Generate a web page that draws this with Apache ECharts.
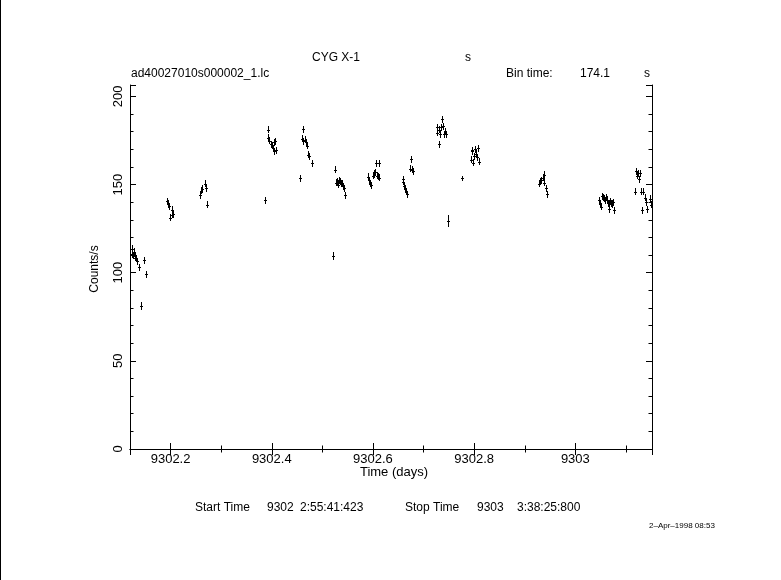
<!DOCTYPE html>
<html>
<head>
<meta charset="utf-8">
<script src="https://cdn.jsdelivr.net/npm/echarts@6/dist/echarts.min.js"></script>
<style>
html,body{margin:0;padding:0;background:#fff;}
#chart{width:781px;height:580px;}
</style>
</head>
<body>
<div id="chart"></div>
<script>
// ---- Data ----
const times = [
  9302.1230, 9302.1245, 9302.1262, 9302.1277, 9302.1292, 9302.1306, 9302.1321, 9302.1336, 9302.1366, 9302.1425, 9302.1484, 9302.1513,
  9302.1923, 9302.1943, 9302.1976, 9302.1996, 9302.2022, 9302.2030, 9302.2055,
  9302.2587, 9302.2607, 9302.2627, 9302.2686, 9302.2700, 9302.2715,
  9302.3874, 9302.3920, 9302.3935, 9302.3955, 9302.3985, 9302.4010, 9302.4030, 9302.4035, 9302.4050, 9302.4065, 9302.4090,
  9302.4558, 9302.4592, 9302.4612, 9302.4626, 9302.4650, 9302.4680, 9302.4696, 9302.4720, 9302.4735, 9302.4804,
  9302.5218, 9302.5247, 9302.5277, 9302.5297, 9302.5316, 9302.5336, 9302.5356, 9302.5375, 9302.5391, 9302.5410, 9302.5425, 9302.5444,
  9302.5898, 9302.5915, 9302.5935, 9302.5963, 9302.5996, 9302.6016, 9302.6036, 9302.6065, 9302.6075, 9302.6095, 9302.6114, 9302.6124,
  9302.6587, 9302.6600, 9302.6613, 9302.6636, 9302.6656, 9302.6676, 9302.6739, 9302.6755, 9302.6770, 9302.6784,
  9302.7257, 9302.7272, 9302.7297, 9302.7312, 9302.7330, 9302.7345, 9302.7362, 9302.7378, 9302.7395, 9302.7415, 9302.7434, 9302.7480, 9302.7763,
  9302.7937, 9302.7952, 9302.7967, 9302.7986, 9302.8001, 9302.8016, 9302.8045, 9302.8060, 9302.8080, 9302.8095,
  9302.9287, 9302.9306, 9302.9326, 9302.9356, 9302.9375, 9302.9385, 9302.9415, 9302.9444,
  9303.0470, 9303.0486, 9303.0500, 9303.0534, 9303.0550, 9303.0567, 9303.0584, 9303.0600, 9303.0616, 9303.0632, 9303.0650, 9303.0666, 9303.0670, 9303.0690, 9303.0712, 9303.0730, 9303.0745, 9303.0760,
  9303.1173, 9303.1207, 9303.1222, 9303.1239, 9303.1252, 9303.1278, 9303.1305, 9303.1325, 9303.1344, 9303.1370, 9303.1390, 9303.1410, 9303.1476, 9303.1503
];
const rates = [
  113.5, 110.5, 110, 112, 109.5, 108.5, 108, 106.5, 103, 81, 107, 99,
  140.5, 139, 137.7, 131.2, 135.6, 132.8, 133.3,
  144, 146.5, 147.5, 150.5, 148, 138.5,
  141, 176.5, 181, 175, 173, 172, 170.5, 174, 169, 174.5, 169.5,
  153.5, 176, 181.5, 174.5, 175.5, 174, 172, 167, 166, 162,
  109.5, 158.5, 151, 152, 150, 152.5, 151.5, 150.5, 150.5, 149, 148, 144,
  154.5, 152.5, 150.5, 149.5, 155, 156, 157, 162, 155, 154.5, 162, 154,
  153, 151.5, 149, 147.5, 146, 144.5, 159, 164.5, 158.5, 157.5,
  182.5, 179.5, 181, 173, 178.5, 182.5, 187, 183, 178.5, 180, 178.5, 129.5, 153.5,
  164, 169, 169.5, 162.5, 166, 170, 167.5, 165.5, 170.5, 163,
  150.5, 151.5, 152.5, 154, 155.5, 151, 148, 144.5,
  141, 139, 137.5, 143.5, 142.5, 142, 141, 142.5, 141, 141.5, 139.5, 139, 136, 140.5, 139.5, 139, 140, 135.5,
  146, 157.5, 155, 156.5, 153, 156.5, 146, 135.5, 146, 142.5, 140, 136, 142, 138.5
];
const rateErrors = [
  2, 2, 2, 2, 2, 2, 2, 2, 2, 2.2, 2, 2,
  2, 2, 2, 2, 2, 2, 2,
  2, 2, 2, 2, 2, 2,
  2.2, 2, 2, 2, 2, 2, 2, 2, 2, 2, 2,
  2, 2, 2, 2, 2, 2, 2, 2, 2, 2,
  2, 2, 2, 2, 2, 2, 2, 2, 2, 2, 2, 2,
  2, 2, 2, 2, 2, 2, 2, 2, 2, 2, 2, 2,
  2, 2, 2, 2, 2, 2, 2, 2, 2, 2,
  2, 2, 2, 2, 2, 2, 2, 2, 2, 2, 2, 3.5, 1.5,
  2, 2, 2, 2, 2, 2, 2, 2, 2, 2,
  2, 2, 2, 2, 2, 2, 2, 2,
  2, 2, 2, 2, 2, 2, 2, 2, 2, 2, 2, 2, 2, 2, 2, 2, 2, 2,
  2, 2, 2, 2, 2, 2, 2, 2, 2, 2, 2, 2, 2, 2
];
const binTimeSec = 174.1;
const xRange = [9302.1198, 9303.1515];
const yRange = [0, 206.5];
const xLabelFormat = v => String(parseFloat(v.toFixed(4)));
const yLabelFormat = v => String(parseFloat(v.toFixed(2)));

// ---- Chart ----
const FONT = '"Liberation Sans", "DejaVu Sans", sans-serif';
const chart = echarts.init(document.getElementById('chart'), null, {renderer: 'canvas'});
const seriesData = times.map((t, i) => [t, rates[i], rateErrors[i]]);
const halfBinDays = binTimeSec / 86400 / 2;

const tickCommon = {
  axisLine: {show: true, lineStyle: {color: '#000', width: 1}},
  axisTick: {show: true, inside: true, length: 6, lineStyle: {color: '#000', width: 1}},
  splitLine: {show: false}
};

const option = {
  backgroundColor: '#fff',
  animation: false,
  grid: {left: 130, top: 85, width: 522, height: 364, containLabel: false},
  xAxis: [
    Object.assign({
      type: 'value', position: 'bottom', min: xRange[0], max: xRange[1], splitNumber: 5,
      minorTick: {show: true, splitNumber: 2, length: 3.5, lineStyle: {color: '#000', width: 1}},
      axisLabel: {color: '#000', fontFamily: FONT, fontSize: 13, margin: 4, formatter: xLabelFormat, showMinLabel: false, showMaxLabel: false}
    }, tickCommon),
    Object.assign({
      type: 'value', position: 'top', min: xRange[0], max: xRange[1], splitNumber: 5,
      minorTick: {show: true, splitNumber: 2, length: 3.5, lineStyle: {color: '#000', width: 1}},
      axisLabel: {show: false}
    }, tickCommon)
  ],
  yAxis: [
    Object.assign({
      type: 'value', position: 'left', min: yRange[0], max: yRange[1], splitNumber: 4,
      minorTick: {show: true, splitNumber: 5, length: 3.5, lineStyle: {color: '#000', width: 1}},
      axisLabel: {color: '#000', fontFamily: FONT, fontSize: 13, rotate: 90, margin: 5, formatter: yLabelFormat, showMaxLabel: false}
    }, tickCommon),
    Object.assign({
      type: 'value', position: 'right', min: yRange[0], max: yRange[1], splitNumber: 4,
      minorTick: {show: true, splitNumber: 5, length: 3.5, lineStyle: {color: '#000', width: 1}},
      axisLabel: {show: false}
    }, tickCommon)
  ],
  series: [{
    type: 'custom',
    xAxisIndex: 0, yAxisIndex: 0,
    data: seriesData,
    renderItem: function (params, api) {
      const x = api.value(0), y = api.value(1), e = api.value(2);
      const top = api.coord([x, y + e]);
      const bot = api.coord([x, y - e]);
      const l = api.coord([x - halfBinDays, y]);
      const r = api.coord([x + halfBinDays, y]);
      const cx = Math.round(top[0]) + 0.5;
      const cy = Math.round(l[1]) + 0.5;
      const x1 = Math.min(Math.round(l[0]), cx - 1.5);
      const x2 = Math.max(Math.round(r[0]), cx + 1.5);
      return {
        type: 'group',
        children: [
          {type: 'line', shape: {x1: cx, y1: Math.round(top[1]), x2: cx, y2: Math.round(bot[1])}, style: {stroke: '#000', lineWidth: 1}},
          {type: 'line', shape: {x1: x1, y1: cy, x2: x2, y2: cy}, style: {stroke: '#000', lineWidth: 1}}
        ]
      };
    }
  }],
  graphic: [
    {type: 'line', shape: {x1: 0.5, y1: 0, x2: 0.5, y2: 580}, style: {stroke: '#000', lineWidth: 1}},
    {type: 'text', left: 312, top: 52, style: {text: 'CYG X-1', fill: '#000', font: '12px ' + FONT}},
    {type: 'text', left: 465, top: 52, style: {text: 's', fill: '#000', font: '12px ' + FONT}},
    {type: 'text', left: 131, top: 68, style: {text: 'ad40027010s000002_1.lc', fill: '#000', font: '12px ' + FONT}},
    {type: 'text', left: 506, top: 68, style: {text: 'Bin time:', fill: '#000', font: '12px ' + FONT}},
    {type: 'text', left: 580, top: 68, style: {text: '174.1', fill: '#000', font: '12px ' + FONT}},
    {type: 'text', left: 644, top: 68, style: {text: 's', fill: '#000', font: '12px ' + FONT}},
    {type: 'text', x: 95, y: 269, rotation: Math.PI / 2, style: {text: 'Counts/s', fill: '#000', font: '12px ' + FONT, align: 'center', verticalAlign: 'middle'}},
    {type: 'text', x: 394, y: 472, style: {text: 'Time (days)', fill: '#000', font: '13px ' + FONT, align: 'center', verticalAlign: 'middle'}},
    {type: 'text', left: 195, top: 502, style: {text: 'Start Time', fill: '#000', font: '12px ' + FONT}},
    {type: 'text', left: 267, top: 502, style: {text: '9302', fill: '#000', font: '12px ' + FONT}},
    {type: 'text', left: 300, top: 502, style: {text: '2:55:41:423', fill: '#000', font: '12px ' + FONT}},
    {type: 'text', left: 405, top: 502, style: {text: 'Stop Time', fill: '#000', font: '12px ' + FONT}},
    {type: 'text', left: 477, top: 502, style: {text: '9303', fill: '#000', font: '12px ' + FONT}},
    {type: 'text', left: 517, top: 502, style: {text: '3:38:25:800', fill: '#000', font: '12px ' + FONT}},
    {type: 'text', left: 649, top: 522, style: {text: '2\u2013Apr\u20131998 08:53', fill: '#000', font: '8px ' + FONT}}
  ]
};
chart.setOption(option);
</script>
</body>
</html>
